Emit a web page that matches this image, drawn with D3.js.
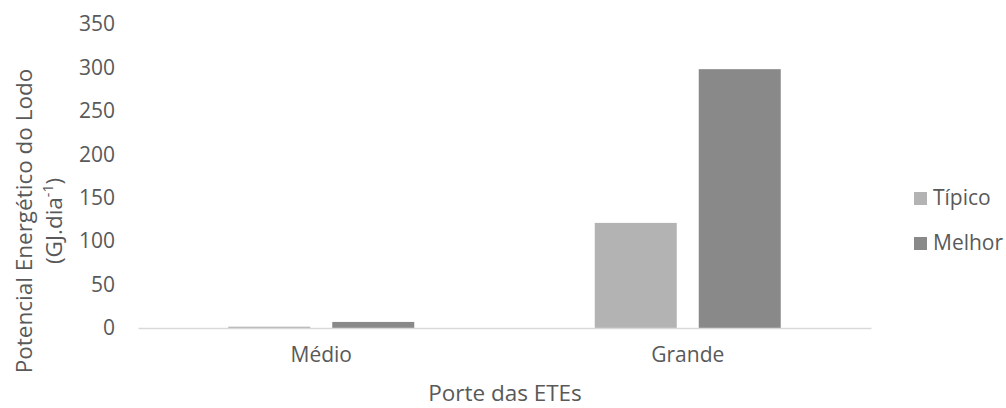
<!DOCTYPE html>
<html>
<head>
<meta charset="utf-8">
<script src="https://cdn.jsdelivr.net/npm/d3@7"></script>
<style>
  body { margin: 0; background: #fff; }
  text { font-family: "Open Sans", sans-serif; fill: #595959; }
</style>
</head>
<body>
<div id="chart"></div>
<script>
var categories = ['Médio', 'Grande'];
var seriesNames = ['Típico', 'Melhor'];
var tipico = [1.5, 121];
var melhor = [7, 298];
var yTicks = [0, 50, 100, 150, 200, 250, 300, 350];
var colors = ['#b3b3b3', '#898989'];

var width = 1006, height = 408;
var margin = { left: 138, right: 135, top: 24, bottom: 80 };

var svg = d3.select('#chart').append('svg')
            .attr('width', width)
            .attr('height', height);

var x = d3.scaleBand()
          .domain(categories)
          .range([margin.left, width - margin.right]);

// two bars 82px wide with a 22px gap, centred in each category
var half = 93;
var inner = d3.scaleBand()
              .domain(seriesNames)
              .range([x.bandwidth() / 2 - half, x.bandwidth() / 2 + half])
              .paddingInner(22 / 104);

var y = d3.scaleLinear()
          .domain([0, 350])
          .range([height - margin.bottom, margin.top]);

// y tick labels, no gridlines
var yAxis = d3.axisLeft(y).tickValues(yTicks).tickSize(0).tickPadding(23);
var gy = svg.append('g')
            .attr('transform', 'translate(' + margin.left + ',0)')
            .call(yAxis);
gy.select('.domain').remove();
gy.selectAll('text').style('font-size', '21px').attr('fill', '#595959');

// bars
var values = [tipico, melhor];
var groups = svg.append('g').selectAll('g')
                .data(seriesNames)
                .enter().append('g')
                .attr('fill', function(d, i) { return colors[i]; });

groups.selectAll('rect')
      .data(function(d, i) {
        return categories.map(function(c, j) { return { cat: c, s: d, v: values[i][j] }; });
      })
      .enter().append('rect')
      .attr('x', function(d) { return x(d.cat) + inner(d.s); })
      .attr('width', inner.bandwidth())
      .attr('y', function(d) { return y(d.v); })
      .attr('height', function(d) { return y(0) - y(d.v); });

// x axis
var xAxis = d3.axisBottom(x).tickSize(0).tickPadding(19);
var gx = svg.append('g')
            .attr('transform', 'translate(0,' + y(0) + ')')
            .call(xAxis);
gx.select('.domain').attr('stroke', '#d9d9d9').attr('stroke-width', 1.5);
gx.selectAll('text').style('font-size', '21px').attr('fill', '#595959');

// axis titles
svg.append('text')
   .attr('x', 505)
   .attr('y', 401)
   .attr('text-anchor', 'middle')
   .style('font-size', '22.5px')
   .text('Porte das ETEs');

var yt = svg.append('text')
            .attr('transform', 'translate(32,221) rotate(-90)')
            .attr('text-anchor', 'middle')
            .style('font-size', '22.5px');
yt.append('tspan').attr('x', 0).attr('y', 0).text('Potencial Energético do Lodo');
yt.append('tspan').attr('x', 0).attr('y', 30).text('(GJ.dia');
yt.append('tspan').attr('dy', -9).style('font-size', '14px').text('-1');
yt.append('tspan').attr('dy', 9).text(')');

// legend
var legend = svg.append('g').attr('transform', 'translate(914,0)');
seriesNames.forEach(function(s, i) {
  var base = 205 + i * 45;
  legend.append('rect')
        .attr('x', 0).attr('y', base - 13)
        .attr('width', 13).attr('height', 13)
        .attr('fill', colors[i]);
  legend.append('text')
        .attr('x', 19).attr('y', base)
        .style('font-size', '21px')
        .text(s);
});
</script>
</body>
</html>
